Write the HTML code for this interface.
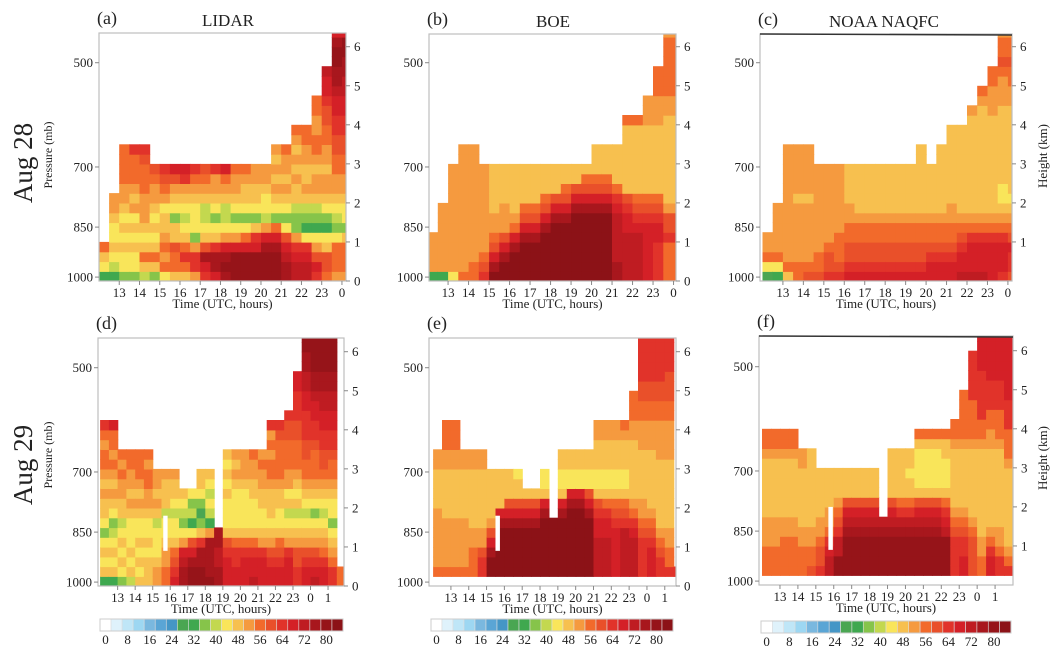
<!DOCTYPE html>
<html><head><meta charset="utf-8"><style>
html,body{margin:0;padding:0;background:#fff;}
svg text{font-family:"Liberation Serif",serif;fill:#222;}
</style></head><body>
<svg id="fig" width="1061" height="657" viewBox="0 0 1061 657" xmlns="http://www.w3.org/2000/svg"></svg>
<script>
const palette=["#ffffff","#dff2fb","#bfe6f7","#9dd7f2","#7ab8df","#5aa5d5","#4596c6","#4aa652","#3fa84f","#86c44a","#c3d84f","#f9e55a","#f7c04f","#f59a3f","#f26a2b","#e9502a","#e1332a","#d42027","#bf1c22","#a8171d","#961419","#8c1217"];
const cbLabels=["0","8","16","24","32","40","48","56","64","72","80"];
const topHours=["13","14","15","16","17","18","19","20","21","22","23","0"];
const botHours=["13","14","15","16","17","18","19","20","21","22","23","0","1"];
const pressureLabels=["500","700","850","1000"];
const pressureKm=[5.59,2.92,1.38,0.1];
const heightTicks=[0,1,2,3,4,5,6];
const colStart=12, colStep=0.5, rowStep=0.25;
// grids: each string = one 0.5h column, rows bottom->top in 0.25 km steps
const gridA=["8bce","8abcbbcdd","9bbcbcbcddeeee","9bbcbcbdcdeeeg","acecbcdddeeefg","9cecbcbcddef","bededccbdefg","ceefcc9bcdfh","cegecbabcdgh","dggd9bbbcdeg","ghjfcbaacdef","hjjgcb9bcddg","jkjhdbaacdeh","kkkhdb9bcdde","kkkheb9bccde","kkkhgc9bccdd","kkkjhdabbcdd","kkkjhe9bcdcdcd","jjihfb9bcdcdde","iihgd99accdcdcde","iihgb89acdccddee","ghfdb89acddcdeeddee","effcb89bcddcddeeffghhi","deeeb9abcddeeffgghhijjkkjh","deeec9bbcddeeffgghhiijjkkh"];
const gridB=["8dddd","8ddddddd","bddddddddddd","eddddddddddddd","eedddddddddddd","gfeddddddddd","ljhfeddccccc","lljhfdddcccc","llljhedccccc","lllljhfecccc","lllljhfecccc","llllljhfeccc","lllllljhfccc","lllllljhfecc","llllllljhfcc","llllllljhfec","llllllljhfeccc","llllllljhfeccc","jjiiiiihgecccc","iiiiihhgfccccccce","iiiiihgfeccccccce","hhhhhhgfecccccccddd","gggghhgfecccccccdddeee","eeeegffdcccccccccddeeeeeed","eeeegffdcccccccccddeeeeeed"];
const gridC=["7bedd","8beddddd","cedddddddddddd","eeddddddcddddd","feddddddcddddd","feeddddddddd","gffedddddddd","gfeeeddddddd","hgffeeddcccc","hgffeedccccc","hgffeedccccc","hgffeedccccc","hgffeedccccc","hgffeedccccc","hgffeedccccc","hgffeedccccccc","hhgfeedccccc","hhgfeedccccccc","hhgfeeddcccccccc","ihhgfedccccccccc","ihhhgedccccccccccd","ihhhgedcccccccccccde","hhhhgedccccccccccdddee","ghhhgedcbbccccccccdddefeed","fgghfedcbcccccccccddeefeed"];
const gridD=["8cbcb9bccdcdeedeg","8cbcba9bcdcdedeeh","9bcbcbaccddede","acbcbbbcdcddee","cbcbcbbcdcdeee","cccbcbbcddeede","ddcbbbacdcdd","eeddcbbacccd","hgfecbbabccd","jjihdb9abc","kkjhfb8a9b","kkjjgc979bcc","kjjjjd8ababc","jjiijj","hhhgfcbbbcbcbc","hhggecbbbbcdcd","hhhgecbbbbcddd","ihhgecbbbccdde","hhhgdcbbccdded","hhgfdcbcccdeededg","hhgfecbbccdeeeefg","hhhgdcbacbddeeeffg","ggffdcbacbcdeeeffggghh","hhgfdcbabcdeeffggghhiijjkk","ihgfdcb9bcdeeefgghhijjkkkk","hhgedcbabcdeffgghhiijjkkkk","ggedcb9bbcdeefgghhiijjkkkk","ee"];
const gridE=["0eddddddccccdd","0edddddcccccddeee","0edddddcccccddeee","0edddddcccccdd","0eeeddccccccdd","0ggfddccccccdd","0lljhfdccccc","0llllljhcccc","0llllljhfccc","0llllljhfccb","0llllljhfc","0llllljhfc","0lllllljhcbb","0llllll","0lllllljhcbbcc","0llllllljhbbcc","0llllllljhbbcc","0lllllljhfbbcc","0iiiihhgfcbbcccdd","0iiiihhgecbbcccdd","0hhhhhgfecbbcccdd","0iiiiigfecbbcccde","0iiiihgedccccccddeee","0ggggfeddcccccdddeeffggggg","0hhhgfedccccccdddeeffggggg","0ggfedcccccccddddeeffggggg","0geeddcccccccddddeefffgggg","0g"];
const gridF=["0eeedddccccccdee","0eeedddccccccdee","0eeeeddccccccdee","0eeeeddccccccdee","0eeeddccccccdd","0feeddcccccccc","0gffeddccccc","0iihgeddcccc","0kkiigfedccc","0kkkkjihfccc","0kkkkjihfccc","0kkkkjihfccc","0kkkkjihfccc","0kkkkji","0kkkkjihfccccc","0kkkkjigeccccc","0kkkkjigeccbcc","0kkkkjihfcbbbbce","0kkkkjihfcbbbbce","0kkkkjihfcbbbbce","0kkkkihgecbbbcce","0ggggfedccccccdee","0hhggfedccccccdeeeee","0ffffedcccccccdeeeeggggg","0eeddcccccccccdeeggggghhhh","0hhgedccccccccddeeggghhhhh","0ggeddccccccccdeeeggghhhhh","0gedccccccccdeeeggghhhhhhh"];
// missing-data gaps: [t0,t1,km0,km1]
const gapsD=[[15.6,15.85,0.9,1.8]];
const gapsE=[[15.5,15.75,0.9,1.8]];
const gapsF=[[15.7,15.95,0.9,2.0]];
const gapsNone=[];

const NS="http://www.w3.org/2000/svg";
const svg=document.getElementById('fig');
function mk(tag,attrs,parent){const e=document.createElementNS(NS,tag);for(const k in attrs)e.setAttribute(k,attrs[k]);(parent||svg).appendChild(e);return e;}
function txt(s,attrs,parent){const e=mk('text',attrs,parent);e.textContent=s;return e;}
const KM=39.05;
const panels=[
 {id:'a',L:99,R:346,T:33,B:281,t0:12.0,t1:24.2,grid:gridA,gaps:gapsNone,hours:topHours,title:'LIDAR',tx:228,cb:null,hgt:false,line:false,row:0},
 {id:'b',L:429,R:676,T:34,B:281,t0:12.07,t1:24.12,grid:gridB,gaps:gapsNone,hours:topHours,title:'BOE',tx:553,cb:null,hgt:false,line:false,row:0},
 {id:'c',L:760,R:1012,T:34,B:281,t0:11.88,t1:24.2,grid:gridC,gaps:gapsNone,hours:topHours,title:'NOAA NAQFC',tx:884,cb:null,hgt:true,line:true,row:0},
 {id:'d',L:98,R:344,T:338,B:586,t0:11.88,t1:25.91,grid:gridD,gaps:gapsD,hours:botHours,title:'',cb:[100,343,619,631],hgt:false,line:false,row:1},
 {id:'e',L:429,R:676,T:338,B:586,t0:11.77,t1:25.63,grid:gridE,gaps:gapsE,hours:botHours,title:'',cb:[431,673,619,631],hgt:false,line:false,row:1},
 {id:'f',L:759,R:1013,T:336,B:585,t0:11.83,t1:26.0,grid:gridF,gaps:gapsF,hours:botHours,title:'',cb:[761,1011,621,633],hgt:true,line:true,row:1}
];
function ci(ch){const c=ch.charCodeAt(0);return c<=57?c-48:c-87;}
panels.forEach(p=>{
 const g=mk('g',{});
 
 
 const sx=t=>p.L+(t-p.t0)/(p.t1-p.t0)*(p.R-p.L);
 const sy=k=>p.B-k*KM;
 const clip=mk('clipPath',{id:'clip'+p.id},g);
 mk('rect',{x:p.L,y:p.T,width:p.R-p.L,height:p.B-p.T},clip);
 const cells=mk('g',{'clip-path':'url(#clip'+p.id+')'},g);
 
 
 p.grid.forEach((col,i)=>{
  const ts=colStart+i*colStep, te=ts+colStep;
  for(let j=0;j<col.length;j++){
   const v=ci(col[j]); if(v===0) continue;
   const x=sx(ts), y=sy((j+1)*rowStep);
   const r=mk('rect',{x:x.toFixed(1),y:y.toFixed(1),width:(sx(te)-x+0.6).toFixed(1),height:(rowStep*KM+0.6).toFixed(1),fill:palette[v]},cells);
   
   
  }
 });
 p.gaps.forEach(gp=>{
  const r=mk('rect',{x:sx(gp[0]),y:sy(gp[3]),width:sx(gp[1])-sx(gp[0]),height:(gp[3]-gp[2])*KM,fill:'#fff'},cells);
  
  
 });
 const fr=mk('rect',{x:p.L,y:p.T,width:p.R-p.L,height:p.B-p.T,fill:'none',stroke:'#bdbdbd','stroke-width':1.2},g);
 
 
 if(p.line){const l=mk('line',{x1:p.L,y1:p.T,x2:p.R,y2:p.T+1,stroke:'#333','stroke-width':1.4},g);
  }
 pressureLabels.forEach((s,k)=>{
  const y=sy(pressureKm[k]);
  mk('line',{x1:p.L-4,y1:y,x2:p.L,y2:y,stroke:'#888'},g);
  const t=txt(s,{x:p.L-6,y:y+4.5,'font-size':13,'text-anchor':'end'},g);
  
  
 });
 heightTicks.forEach(h=>{
  if(p.hgt&&h===0) return;
  const y=sy(h);
  mk('line',{x1:p.R,y1:y,x2:p.R+4,y2:y,stroke:'#888'},g);
  const t=txt(String(h),{x:p.R+8,y:y+4.5,'font-size':13},g);
  
  
 });
 p.hours.forEach((s,k)=>{
  const x=sx(13+k);
  mk('line',{x1:x,y1:p.B,x2:x,y2:p.B+4,stroke:'#888'},g);
  const t=txt(s,{x:x,y:p.B+16,'font-size':13,'text-anchor':'middle'},g);
  
  
 });
 const xt=txt('Time (UTC, hours)',{x:(p.L+p.R)/2,y:p.B+27,'font-size':13,'text-anchor':'middle'},g);
 
 
 const lb=txt('('+p.id+')',{x:p.L-2,y:p.T-9,'font-size':18},g);
 
 
 if(p.title){const tt=txt(p.title,{x:p.tx,y:p.T-7,'font-size':17,'text-anchor':'middle'},g);
  }
 if(p.hgt){const ht=txt('Height (km)',{x:0,y:0,'font-size':13,'text-anchor':'middle',transform:'translate(1047,'+(p.T+122)+') rotate(-90)'},g);
  }
 if(p.cb){
  const [x0,x1,y0,y1]=p.cb; const n=palette.length; const w=(x1-x0)/n;
  const cb=mk('g',{},g);
  
  
  palette.forEach((c,k)=>{
   const r=mk('rect',{x:x0+k*w,y:y0,width:w,height:y1-y0,fill:c,stroke:'#ddd','stroke-width':0.6},cb);
   
   
  });
  mk('rect',{x:x0,y:y0,width:x1-x0,height:y1-y0,fill:'none',stroke:'#ccc'},cb);
  cbLabels.forEach((s,k)=>{
   const t=txt(s,{x:x0+(2*k+0.5)*w,y:y1+13,'font-size':13,'text-anchor':'middle'},cb);
   
   
  });
 }
});
[['Aug 28',163,155],['Aug 29',465,455]].forEach(r=>{
 const a=txt(r[0],{x:0,y:0,'font-size':27,'text-anchor':'middle',transform:'translate(32,'+r[1]+') rotate(-90)'});
 
 
 const b=txt('Pressure (mb)',{x:0,y:0,'font-size':12,'text-anchor':'middle',transform:'translate(52,'+r[2]+') rotate(-90)'});
 
 
});
</script>
</body></html>
